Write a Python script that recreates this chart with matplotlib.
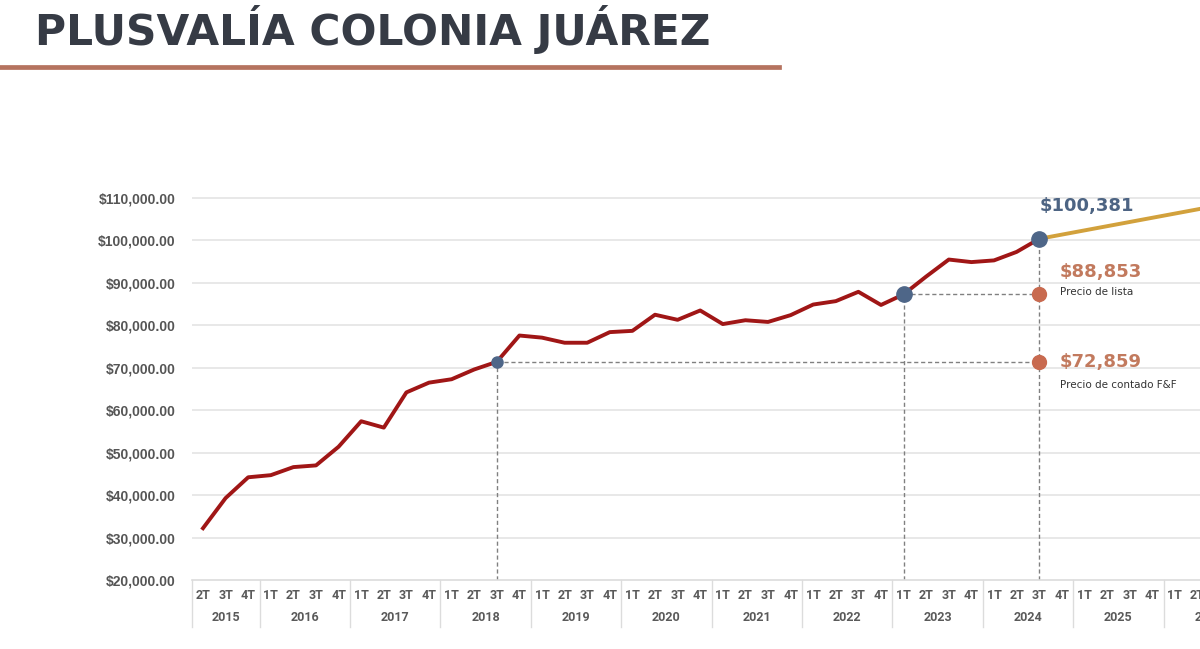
import matplotlib.pyplot as plt
from matplotlib.lines import Line2D

# trimestres desde 2T 2015 hasta 4T 2026
years = [2015, 2016, 2017, 2018, 2019, 2020, 2021, 2022, 2023, 2024, 2025, 2026]
quarter_labels = ['2T', '3T', '4T'] + ['1T', '2T', '3T', '4T'] * 11

# precio por m2 (2T 2015 ... 3T 2024)
precio = [32200, 39300, 44200,
          44700, 46600, 47000, 51400,
          57400, 55900, 64200, 66500,
          67300, 69600, 71400, 77600,
          77100, 75900, 75900, 78400,
          78700, 82500, 81300, 83500,
          80300, 81200, 80800, 82400,
          84900, 85700, 87900, 84800,
          87300, 91500, 95500, 94900,
          95300, 97300, 100381]

# proyeccion
proy_x = [37, 46]
proy_y = [100381, 109300]

# puntos marcados
idx_2018 = 13
idx_2023 = 31
idx_2024 = 37
lista_y = 87400
contado_y = 71400

fig = plt.figure(figsize=(12, 6.49), dpi=100)

# titulo y linea
fig.text(35 / 1200, 1 - 30 / 649, 'PLUSVALÍA COLONIA JUÁREZ', fontsize=30.5, fontweight='bold',
         color='#363b45', family='DejaVu Sans', va='center', ha='left')
fig.add_artist(Line2D([0, 779 / 1200], [1 - 67 / 649, 1 - 67 / 649], color='#b5735f', lw=3.4))

ax = fig.add_axes([191.7 / 1200, 1 - 580 / 649, 1062.2 / 1200, 382 / 649])
ax.set_xlim(-0.5, 46.5)
ax.set_ylim(20000, 110000)

for s in ['top', 'right', 'left']:
    ax.spines[s].set_visible(False)
ax.spines['bottom'].set_color('#dcdcdc')
ax.spines['bottom'].set_linewidth(1.2)

yt = list(range(20000, 110001, 10000))
ax.hlines(yt[1:], -0.5, 46.5, color='#e4e4e4', lw=1.2, clip_on=False, zorder=0)
ax.set_yticks(yt)
ax.set_yticklabels(['${:,.2f}'.format(v) for v in yt], fontsize=10, fontweight='bold',
                   color='#555555', family='Liberation Sans')
ax.tick_params(axis='y', length=0, pad=11.5)
ax.set_xticks([])

# eje de categorias
tr = ax.get_xaxis_transform()
for i, q in enumerate(quarter_labels):
    ax.text(i, -0.04, q, transform=tr, ha='center', va='center', fontsize=9,
            fontweight='bold', color='#5a5a5a', family='Roboto', clip_on=False)
bounds = [-0.5, 2.5] + [2.5 + 4 * k for k in range(1, 12)]
for b in bounds:
    ax.plot([b, b], [0, -0.123], transform=tr, color='#dcdcdc', lw=1.0, clip_on=False)
for k, y in enumerate(years):
    cx = 1.0 if k == 0 else 4.5 + 4 * (k - 1)
    ax.text(cx, -0.097, str(y), transform=tr, ha='center', va='center', fontsize=9,
            fontweight='bold', color='#5a5a5a', family='Roboto', clip_on=False)

# lineas punteadas de referencia
dash = dict(color='#808080', lw=1.0, ls=(0, (3, 2)), zorder=2)
ax.plot([idx_2018, idx_2018], [20000, precio[idx_2018]], **dash)
ax.plot([idx_2018, idx_2024], [contado_y, contado_y], **dash)
ax.plot([idx_2023, idx_2023], [20000, precio[idx_2023]], **dash)
ax.plot([idx_2023, idx_2024], [lista_y, lista_y], **dash)
ax.plot([idx_2024, idx_2024], [20000, precio[idx_2024]], **dash)

ax.plot(range(len(precio)), precio, color='#a01616', lw=2.8, zorder=3, solid_joinstyle='round')
ax.plot(proy_x, proy_y, color='#d2a13c', lw=2.8, zorder=3)

azul = '#4e6688'
naranja = '#c86a4f'
ax.plot(idx_2018, precio[idx_2018], 'o', color=azul, ms=8, zorder=4)
ax.plot(idx_2023, precio[idx_2023], 'o', color=azul, ms=11, zorder=4)
ax.plot(idx_2024, precio[idx_2024], 'o', color=azul, ms=11, zorder=4, clip_on=False)
ax.plot(idx_2024, lista_y, 'o', color=naranja, ms=10, zorder=4)
ax.plot(idx_2024, contado_y, 'o', color=naranja, ms=10, zorder=4)

ax.text(37.0, 108000, '$100,381', fontsize=13, fontweight='bold', color='#4d6483',
        ha='left', va='center', clip_on=False)
ax.text(37.9, 92470, '$88,853', fontsize=13, fontweight='bold', color='#c27a5e',
        ha='left', va='center')
ax.text(37.9, 87760, 'Precio de lista', fontsize=7.5, color='#333333', ha='left', va='center')
ax.text(37.9, 71300, '$72,859', fontsize=13, fontweight='bold', color='#c27a5e',
        ha='left', va='center')
ax.text(37.9, 65900, 'Precio de contado F&F', fontsize=7.5, color='#333333',
        ha='left', va='center')

plt.savefig('out.png', dpi=100)
